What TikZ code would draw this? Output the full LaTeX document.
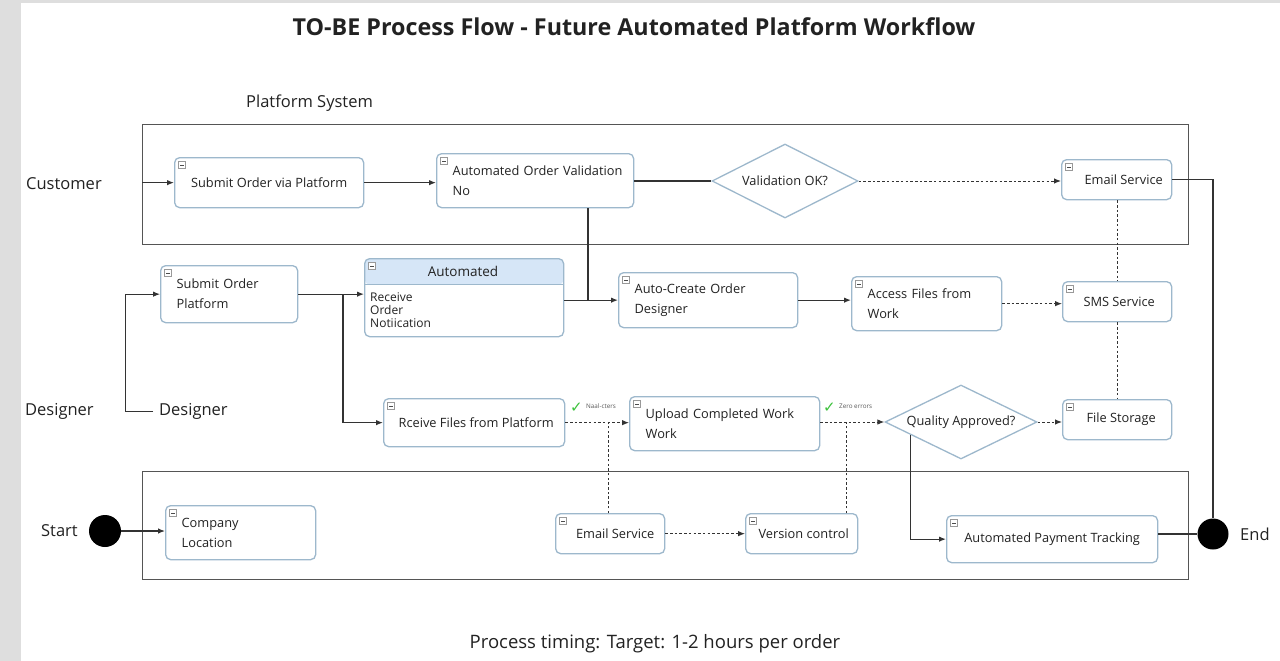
\documentclass[tikz,border=0pt]{standalone}
\usepackage{fontspec}
\setmainfont{Open Sans}
\newfontfamily\dejavu{DejaVu Sans}
\usetikzlibrary{arrows.meta,shapes.geometric,calc}
\definecolor{boxborder}{HTML}{9DB8CC}
\definecolor{lanecol}{HTML}{555555}
\definecolor{conn}{HTML}{333333}
\definecolor{hdr}{HTML}{D6E6F7}
\definecolor{chk}{HTML}{3DC23D}
\definecolor{band}{HTML}{DEDEDE}
\definecolor{txt}{HTML}{222222}
\tikzset{
  every node/.style={font=\fontsize{12.8}{20}\selectfont, text=txt},
  icon/.style={sharp corners, draw=gray!80, line width=0.6pt, fill=white},
  box/.style={draw=boxborder, line width=1.3pt, rounded corners=5pt, fill=white,
    anchor=north west, inner sep=0pt,
    path picture={
      \draw[icon] ($(path picture bounding box.north west)+(4,4)$) rectangle ++(7,7);
      \draw[sharp corners, gray!60!black, line width=1pt] ($(path picture bounding box.north west)+(5.5,7.5)$) -- ++(4,0);}},
  autobox/.style={draw=boxborder, line width=1.3pt, rounded corners=5pt, fill=white,
    anchor=north west, inner sep=0pt,
    path picture={
      \fill[hdr] (path picture bounding box.north west) rectangle ($(path picture bounding box.north east)+(0,26)$);
      \draw[sharp corners, boxborder, line width=1pt] ($(path picture bounding box.north west)+(0,26)$) -- ($(path picture bounding box.north east)+(0,26)$);
      \draw[icon] ($(path picture bounding box.north west)+(4,4)$) rectangle ++(7,7);
      \draw[sharp corners, gray!60!black, line width=1pt] ($(path picture bounding box.north west)+(5.5,7.5)$) -- ++(4,0);}},
  lbox/.style={align=left, inner xsep=16pt},
  cbox/.style={align=center},
  dia/.style={diamond, draw=boxborder, line width=1.3pt, fill=white, inner sep=0pt, aspect=2},
  lanebox/.style={draw=lanecol, line width=1.2pt, anchor=north west, inner sep=0pt},
  lanelbl/.style={font=\fontsize{16.5}{20}\selectfont},
  dotcirc/.style={circle, fill=black, inner sep=0pt},
  ln/.style={draw=conn, line width=1.2pt},
  arr/.style={ln, -{Latex[length=7pt,width=5.5pt]}},
  dotln/.style={draw=conn, line width=1pt, dash pattern=on 2.5pt off 2.2pt},
  dotarr/.style={dotln, -{Latex[length=7pt,width=5.5pt]}},
  smalllbl/.style={font=\fontsize{6.3}{7}\selectfont, text=gray!70!black, inner sep=0pt},
  chkmark/.style={font=\dejavu\bfseries\fontsize{15}{15}\selectfont, text=chk, inner sep=0pt}
}
\begin{document}
\begin{tikzpicture}[x=1pt,y=-1pt]
\useasboundingbox (0,0) rectangle (1280,661);
\fill[white] (0,0) rectangle (1280,661);
\fill[band] (0,0) rectangle (21,661);
\fill[band] (0,0) rectangle (1280,3);

% title and captions
\node[font=\bfseries\fontsize{23.3}{27}\selectfont] (title) at (634,27) {TO-BE Process Flow - Future Automated Platform Workflow};
\node[lanelbl, anchor=west, inner sep=0pt] (plat) at (246,103) {Platform System};
\node[font=\fontsize{18.5}{22}\selectfont] (timing) at (655,644) {Process timing: Target: 1-2 hours per order};

% lanes
\node[lanebox, minimum width=1046pt, minimum height=120pt] (lane1) at (142,124) {};
\node[lanebox, minimum width=1046pt, minimum height=108pt] (lane2) at (142,471) {};

% lane labels
\node[lanelbl, anchor=west, inner sep=0pt] (cust) at (26,184) {Customer};
\node[lanelbl, anchor=west, inner sep=0pt] (des1) at (25,411) {Designer};
\node[lanelbl, anchor=west, inner ysep=0pt, inner xsep=6pt] (des2) at (153,411) {Designer};
\node[lanelbl, anchor=east, inner sep=0pt] (startl) at (78,531) {Start};
\node[lanelbl, anchor=west, inner sep=0pt] (endl) at (1240,534) {End};

% start / end
\node[dotcirc, minimum size=32pt] (startc) at (105,531) {};
\node[dotcirc, minimum size=31pt] (endc) at (1213,534) {};

% boxes
\node[box, cbox, minimum width=189pt, minimum height=50pt] (sub1) at (174,157) {Submit Order via Platform};
\node[box, lbox, minimum width=197pt, minimum height=54pt, text width=165pt] (val) at (436,153) {\mbox{Automated Order Validation}\\No};
\node[dia, minimum width=146pt, minimum height=74pt] (okd) at (785,181) {Validation OK?};
\node[box, cbox, minimum width=110pt, minimum height=40pt] (em1) at (1061,159) {\hspace*{14pt}Email Service};

\node[box, lbox, minimum width=137pt, minimum height=57pt, text width=105pt] (sub2) at (160,265) {\mbox{Submit Order}\\Platform};
\node[autobox, minimum width=199pt, minimum height=78pt] (auto) at (364,258) {};
\node[font=\fontsize{13.5}{16}\selectfont] (autoh) at (463,271) {Automated};
\node[anchor=west, align=left, inner sep=0pt, font=\fontsize{12}{13.3}\selectfont] (autob) at (370,310) {Receive\\Order\\Notiication};
\node[box, lbox, minimum width=179pt, minimum height=55pt, text width=147pt] (acr) at (618,272) {\mbox{Auto-Create Order}\\Designer};
\node[box, lbox, minimum width=150pt, minimum height=54pt, text width=118pt] (acc) at (851,276) {\mbox{Access Files from}\\Work};
\node[box, cbox, minimum width=109pt, minimum height=40pt] (sms) at (1062,281) {\hspace*{4pt}SMS Service};

\node[box, cbox, minimum width=181pt, minimum height=48pt] (rcv) at (383,398) {\hspace*{4pt}Rceive Files from Platform};
\node[box, lbox, minimum width=190pt, minimum height=54pt, text width=158pt] (upl) at (629,396) {\mbox{Upload Completed Work}\\Work};
\node[dia, minimum width=152pt, minimum height=74pt] (qd) at (961,422) {Quality Approved?};
\node[box, cbox, minimum width=109pt, minimum height=40pt] (fs) at (1062,399) {\hspace*{8pt}File Storage};

\node[box, lbox, minimum width=150pt, minimum height=54pt, text width=118pt] (comp) at (165,505) {Company\\Location};
\node[box, cbox, minimum width=109pt, minimum height=40pt] (em2) at (555,513) {\hspace*{10pt}Email Service};
\node[box, cbox, minimum width=112pt, minimum height=40pt] (ver) at (745,513) {\hspace*{4pt}Version control};
\node[box, cbox, minimum width=211pt, minimum height=47pt] (pay) at (946,515) {Automated Payment Tracking};

% small labels with check marks
\node[chkmark, anchor=west] (chkA) at (570,408) {✓};
\node[smalllbl, anchor=west] (lblA) at (586,406) {Naal-cters};
\node[chkmark, anchor=west] (chkB) at (823,408) {✓};
\node[smalllbl, anchor=west] (lblB) at (839,406) {Zero errors};

% junction coordinates
\coordinate (dcorner) at (125,411);
\coordinate (br1) at (343,0);
\coordinate (jv) at (588,0);
\coordinate (j2) at (608,422);
\coordinate (j3) at (846,422);
\coordinate (qdown) at ($(qd.west)!0.34!(qd.south)$);

% connectors
\draw[arr] (lane1.west |- sub1.west) -- (sub1.west);
\draw[arr] (sub1.east) -- (sub1.east -| val.west);
\draw[ln] (val.east |- okd.west) -- (okd.west);
\draw[dotarr] (okd.east) -- (okd.east -| em1.west);
\draw[ln] (em1.east) -| (endc.north);
\draw[dotln] (em1.south -| sms.north) -- (sms.north);
\draw[dotln] (sms.south) -- (sms.south |- fs.north);

\draw[arr, line width=1pt] (des2.west) -- (dcorner) |- (sub2.west);
\draw[arr] (sub2.east) -- (sub2.east -| auto.west);
\draw[arr] (br1 |- sub2.east) |- (rcv.west);
\draw[ln] (val.south -| jv) -- (jv |- acr.west);
\draw[arr] (auto.east |- acr.west) -- (acr.west);
\draw[arr] (acr.east) -- (acr.east -| acc.west);
\draw[dotarr] (acc.east) -- (acc.east -| sms.west);

\draw[dotarr] (rcv.east) -- (rcv.east -| upl.west);
\draw[dotln] (j2 |- em2.north) -- (j2);
\draw[dotarr] (upl.east |- qd.west) -- (qd.west);
\draw[dotln] (j3 |- ver.north) -- (j3);
\draw[dotarr] (em2.east) -- (ver.west);
\draw[dotarr] (qd.east) -- (qd.east -| fs.west);
\draw[arr] (qdown) |- (pay.west);
\draw[ln] (pay.east |- endc.west) -- (endc.west);
\draw[arr] (startc.east) -- (startc.east -| comp.west);
\end{tikzpicture}
\end{document}
